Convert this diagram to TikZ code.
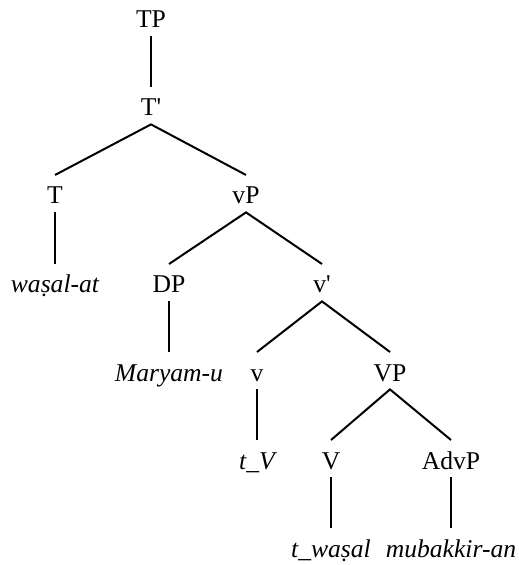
\documentclass[tikz,border=0pt]{standalone}
\usepackage{fontspec}
\setmainfont{Liberation Serif}
\usepackage{tikz}

\begin{document}
\begin{tikzpicture}[
  x=0.5pt,y=-0.5pt,
  font=\fontsize{12.8}{15}\selectfont,
  cat/.style={anchor=base,inner xsep=1pt,inner ysep=4pt,text height=10.3pt,text depth=0pt},
  word/.style={cat,font=\fontsize{12.8}{15}\selectfont\itshape},
  unary/.style={line width=.65pt,draw=black},
  branch/.style={line width=1pt,draw=black}
]
\useasboundingbox (0,0) rectangle (518,565);
% categories, top down
\node[cat] (tp) at (151,28) {TP};
\node[cat] (tbar) at (151,116) {T\textquotesingle};
\node[cat] (t) at (55,204) {T};
\node[cat] (vp) at (246,204) {vP};
\node[word] (tverb) at (55,293) {waṣal-at};
\node[cat] (dp) at (169,293) {DP};
\node[cat] (vbar) at (322,293) {v\textquotesingle};
\node[word] (subj) at (169,381) {Maryam-u};
\node[cat] (v) at (257,381) {v};
\node[cat] (bigvp) at (390,381) {VP};
\node[word] (vtrace) at (257,469) {t\_V};
\node[cat] (bigv) at (331,469) {V};
\node[cat] (advp) at (451,469) {AdvP};
\node[word] (vverb) at (331,557) {t\_waṣal};
\node[word] (adv) at (451,557) {mubakkir-an};
% non-branching edges
\draw[unary] (tp.south) -- (tbar.north);
\draw[unary] (t.south) -- (tverb.north);
\draw[unary] (dp.south) -- (subj.north);
\draw[unary] (v.south) -- (vtrace.north);
\draw[unary] (bigv.south) -- (vverb.north);
\draw[unary] (advp.south) -- (adv.north);
% branching edges
\draw[branch] (t.north) -- (tbar.south) -- (vp.north);
\draw[branch] (dp.north) -- (vp.south) -- (vbar.north);
\draw[branch] (v.north) -- (vbar.south) -- (bigvp.north);
\draw[branch] (bigv.north) -- (bigvp.south) -- (advp.north);
\end{tikzpicture}
\end{document}
